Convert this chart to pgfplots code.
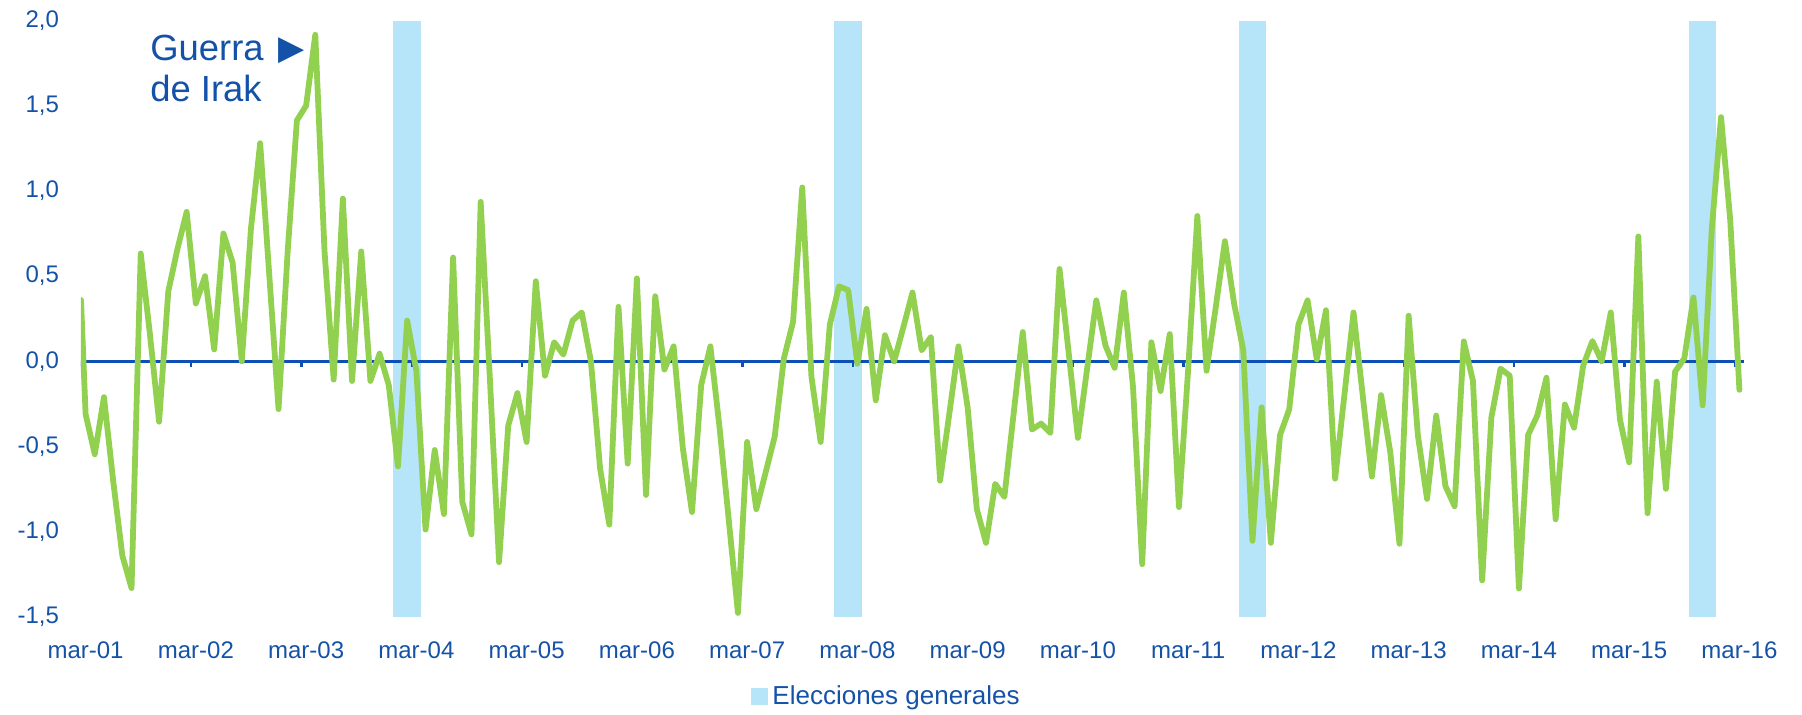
\documentclass[border=0pt]{standalone}
\usepackage{pgfplots}
\pgfplotsset{compat=1.18}
\usepackage{fontspec}
\setmainfont{Liberation Sans}
\newfontfamily\symfont{DejaVu Sans}
\definecolor{txtblue}{HTML}{1452A8}
\definecolor{axblue}{HTML}{0D4FB5}
\definecolor{lgreen}{HTML}{92D050}
\definecolor{barblue}{HTML}{B6E4F8}

\pgfplotstableread{
x y
0.0 0.36
0.5 -0.31
1.5 -0.545
2.5 -0.21
3.5 -0.70
4.5 -1.14
5.5 -1.33
6.5 0.633
7.5 0.16
8.5 -0.354
9.5 0.41
10.5 0.66
11.5 0.877
12.5 0.34
13.5 0.50
14.5 0.07
15.5 0.75
16.5 0.58
17.5 0.0
18.5 0.78
19.5 1.28
20.5 0.5
21.5 -0.28
22.5 0.65
23.5 1.414
24.5 1.50
25.5 1.916
26.5 0.65
27.5 -0.107
28.5 0.955
29.5 -0.115
30.5 0.645
31.5 -0.115
32.5 0.045
33.5 -0.14
34.5 -0.616
35.5 0.239
36.5 -0.055
37.5 -0.987
38.5 -0.52
39.5 -0.896
40.5 0.609
41.5 -0.824
42.5 -1.015
43.5 0.936
44.5 -0.1
45.5 -1.178
46.5 -0.377
47.5 -0.186
48.5 -0.473
49.5 0.47
50.5 -0.084
51.5 0.112
52.5 0.04
53.5 0.239
54.5 0.287
55.5 0.0
56.5 -0.63
57.5 -0.958
58.5 0.32
59.5 -0.60
60.5 0.487
61.5 -0.784
62.5 0.382
63.5 -0.048
64.5 0.088
65.5 -0.509
66.5 -0.884
67.5 -0.139
68.5 0.088
69.5 -0.389
70.5 -0.93
71.5 -1.476
72.5 -0.473
73.5 -0.867
74.5 -0.655
75.5 -0.442
76.5 0.017
77.5 0.232
78.5 1.02
79.5 -0.09
80.5 -0.473
81.5 0.215
82.5 0.44
83.5 0.418
84.5 -0.014
85.5 0.308
86.5 -0.229
87.5 0.153
88.5 0.0
89.5 0.2
90.5 0.404
91.5 0.065
92.5 0.143
93.5 -0.70
94.5 -0.31
95.5 0.088
96.5 -0.27
97.5 -0.867
98.5 -1.065
99.5 -0.719
100.5 -0.795
101.5 -0.31
102.5 0.172
103.5 -0.40
104.5 -0.365
105.5 -0.42
106.5 0.542
107.5 0.05
108.5 -0.449
109.5 -0.045
110.5 0.358
111.5 0.093
112.5 -0.038
113.5 0.404
114.5 -0.15
115.5 -1.19
116.5 0.112
117.5 -0.174
118.5 0.16
119.5 -0.855
120.5 -0.05
121.5 0.853
122.5 -0.055
123.5 0.315
124.5 0.705
125.5 0.34
126.5 0.065
127.5 -1.053
128.5 -0.27
129.5 -1.065
130.5 -0.432
131.5 -0.282
132.5 0.215
133.5 0.358
134.5 0.012
135.5 0.30
136.5 -0.688
137.5 -0.2
138.5 0.287
139.5 -0.2
140.5 -0.676
141.5 -0.198
142.5 -0.533
143.5 -1.07
144.5 0.268
145.5 -0.432
146.5 -0.807
147.5 -0.318
148.5 -0.731
149.5 -0.85
150.5 0.117
151.5 -0.115
152.5 -1.285
153.5 -0.33
154.5 -0.043
155.5 -0.084
156.5 -1.333
157.5 -0.432
158.5 -0.318
159.5 -0.096
160.5 -0.927
161.5 -0.253
162.5 -0.389
163.5 -0.024
164.5 0.119
165.5 0.0
166.5 0.287
167.5 -0.342
168.5 -0.592
169.5 0.733
170.5 -0.891
171.5 -0.119
172.5 -0.748
173.5 -0.06
174.5 0.017
175.5 0.375
176.5 -0.258
177.5 0.78
178.5 1.433
179.5 0.83
180.5 -0.167
}\serie

\begin{document}
\begin{tikzpicture}
\useasboundingbox (-40.5pt,-48.5pt) rectangle (860.5pt,308.5pt);
\begin{axis}[
  at={(0pt,0pt)}, anchor=south west,
  scale only axis, width=831.5pt, height=298.25pt,
  xmin=0, xmax=181, ymin=-1.5, ymax=2,
  axis line style={draw=none},
  major tick length=0pt,
  xtick={0.5,12.5,...,180.5},
  xticklabels={mar-01,mar-02,mar-03,mar-04,mar-05,mar-06,mar-07,mar-08,mar-09,mar-10,mar-11,mar-12,mar-13,mar-14,mar-15,mar-16},
  ytick={-1.5,-1,-0.5,0,0.5,1,1.5,2},
  yticklabels={{-1,5},{-1,0},{-0,5},{0,0},{0,5},{1,0},{1,5},{2,0}},
  tick label style={font=\fontsize{12}{14}\selectfont, text=txtblue},
  xticklabel style={anchor=base, inner sep=0pt, yshift=-20.6pt},
  yticklabel style={anchor=east, inner sep=0pt, xshift=-10.8pt},
  legend style={at={(0.485,-0.134)}, anchor=center, draw=none, fill=none,
    font=\fontsize{13}{15}\selectfont, text=txtblue},
]
\addplot[fill=barblue, draw=none, area legend,
  legend image code/.code={\fill[barblue] (0pt,-4.25pt) rectangle (8.5pt,4.25pt);}]
  coordinates {(34,-1.5) (34,2) (37,2) (37,-1.5)} -- cycle;
\addlegendentry{Elecciones generales}
\addplot[fill=barblue, draw=none, forget plot]
  coordinates {(82,-1.5) (82,2) (85,2) (85,-1.5)} -- cycle;
\addplot[fill=barblue, draw=none, forget plot]
  coordinates {(126,-1.5) (126,2) (129,2) (129,-1.5)} -- cycle;
\addplot[fill=barblue, draw=none, forget plot]
  coordinates {(175,-1.5) (175,2) (178,2) (178,-1.5)} -- cycle;
\draw[axblue, line width=1.5pt] (axis cs:0,0) -- (axis cs:181,0);
\pgfplotsinvokeforeach{0,12,...,180}{\draw[axblue, line width=1.1pt] (axis cs:#1,0) -- ++(0pt,-3pt);}
\addplot[lgreen, line width=2.9pt, line join=round, line cap=round, forget plot] table[x=x,y=y] {\serie};
\end{axis}
\node[anchor=base west, inner sep=0pt, text=txtblue, font=\fontsize{18.2}{19}\selectfont] at (34.5pt,278.5pt) {Guerra};
\node[anchor=base west, inner sep=0pt, text=txtblue, font=\fontsize{18.2}{19}\selectfont] at (34.5pt,258pt) {de Irak};
\node[anchor=center, inner sep=0pt, text=txtblue, font=\symfont\fontsize{17}{17}\selectfont] at (105.5pt,283pt) {▶};
\end{tikzpicture}
\end{document}
